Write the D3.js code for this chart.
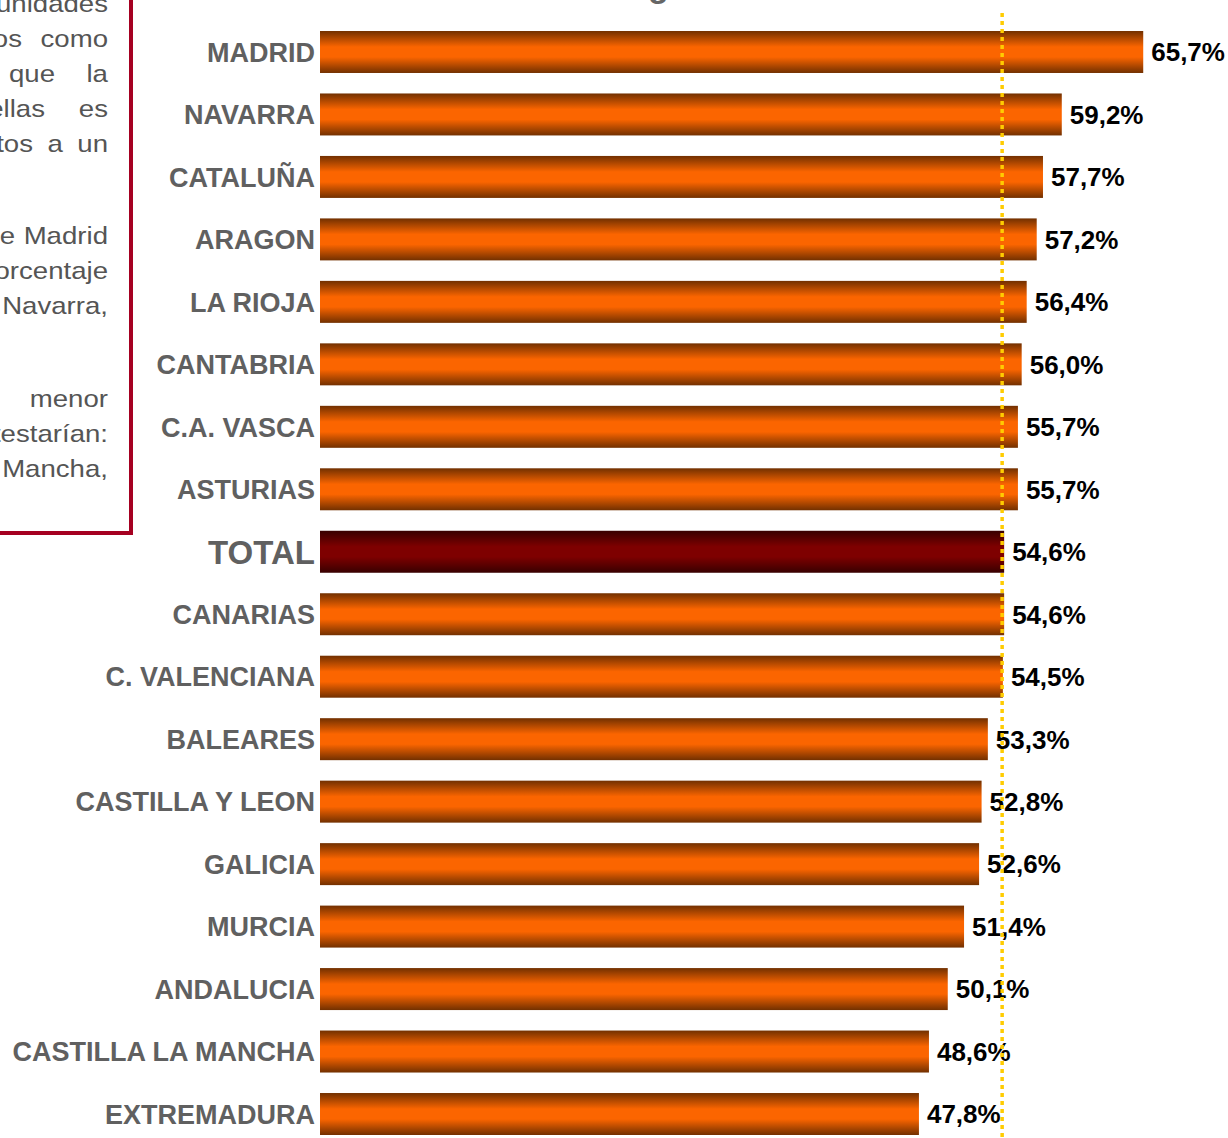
<!DOCTYPE html>
<html>
<head>
<meta charset="utf-8">
<script src="https://cdn.jsdelivr.net/npm/d3@7"></script>
<style>
  body { margin: 0; background: #fff; }
  svg { display: block; }
</style>
</head>
<body>
<div id="chart"></div>
<script>
var width = 1228;
var height = 1138;

// data -------------------------------------------------------------
var regions = ["MADRID", "NAVARRA", "CATALUÑA", "ARAGON", "LA RIOJA", "CANTABRIA",
	"C.A. VASCA", "ASTURIAS", "TOTAL", "CANARIAS", "C. VALENCIANA", "BALEARES",
	"CASTILLA Y LEON", "GALICIA", "MURCIA", "ANDALUCIA", "CASTILLA LA MANCHA", "EXTREMADURA"];
var values = [65.7, 59.2, 57.7, 57.2, 56.4, 56.0, 55.7, 55.7, 54.6, 54.6, 54.5, 53.3,
	52.8, 52.6, 51.4, 50.1, 48.6, 47.8];
var totalLabel = "TOTAL";
var totalValue = 54.6;

// side text box (only the right part is visible)
var noteLines = [
	{words: ["comunidades"], baseline: 12},
	{words: ["todos", "como"], baseline: 47, firstEnd: 22},
	{words: ["que", "la"], baseline: 82, firstEnd: 55},
	{words: ["ellas", "es"], baseline: 117, firstEnd: 45},
	{words: ["puntos", "a", "un"], baseline: 152, firstEnd: 33},
	{words: ["de", "Madrid"], baseline: 244, firstEnd: 15},
	{words: ["porcentaje"], baseline: 279},
	{words: ["Navarra,"], baseline: 314},
	{words: ["menor"], baseline: 407},
	{words: ["contestarían:"], baseline: 442},
	{words: ["Mancha,"], baseline: 477}
];

var rows = regions.map(function(r, i) { return {region: r, value: values[i]}; });

var svg = d3.select("#chart").append("svg")
	.attr("width", width)
	.attr("height", height);

var defs = svg.append("defs");

function addGradient(id, edge, mid) {
	var g = defs.append("linearGradient")
		.attr("id", id)
		.attr("x1", 0).attr("y1", 0)
		.attr("x2", 0).attr("y2", 1);
	g.append("stop").attr("offset", "0%").attr("stop-color", edge);
	g.append("stop").attr("offset", "38%").attr("stop-color", mid);
	g.append("stop").attr("offset", "62%").attr("stop-color", mid);
	g.append("stop").attr("offset", "100%").attr("stop-color", edge);
}
addGradient("barGrad", "#723000", "#fb6500");
addGradient("totalGrad", "#380000", "#7e0000");

// scales -----------------------------------------------------------
var y = d3.scaleBand()
	.domain(regions)
	.range([31, 1135])
	.paddingInner(0.328)
	.paddingOuter(0);

var x = d3.scaleLinear()
	.domain([0, 70])
	.range([320, 320 + 70 * 12.53]);

// title (cut off at top) -------------------------------------------
svg.append("text")
	.attr("x", 648)
	.attr("y", -3)
	.attr("font-family", "Liberation Sans, Arial, sans-serif")
	.attr("font-weight", "bold")
	.attr("font-size", 34)
	.attr("fill", "#666")
	.text("g");

// note box ---------------------------------------------------------
var stretch = 1.15;
var note = svg.append("g")
	.attr("transform", "scale(" + stretch + ",1)")
	.attr("font-family", "Liberation Sans, Arial, sans-serif")
	.attr("font-size", 24)
	.attr("fill", "#555");

noteLines.forEach(function(line) {
	var n = line.words.length;
	var nodes = line.words.map(function(w) {
		return note.append("text")
			.attr("y", line.baseline)
			.attr("text-anchor", "end")
			.text(w);
	});
	// last word ends at the right margin
	nodes[n - 1].attr("x", 108 / stretch);
	if (n > 1) {
		nodes[0].attr("x", line.firstEnd / stretch);
		if (n > 2) {
			// spread middle words evenly (justified)
			var lastW = nodes[n - 1].node().getComputedTextLength() * stretch;
			var lastStart = 108 - lastW;
			var midW = 0;
			for (var k = 1; k < n - 1; k++) midW += nodes[k].node().getComputedTextLength() * stretch;
			var gap = (lastStart - line.firstEnd - midW) / (n - 1);
			var pos = line.firstEnd;
			for (var k = 1; k < n - 1; k++) {
				pos += gap + nodes[k].node().getComputedTextLength() * stretch;
				nodes[k].attr("x", pos / stretch);
			}
		}
	}
});

svg.append("path")
	.attr("d", "M131,0 V533 H0")
	.attr("fill", "none")
	.attr("stroke", "#a50021")
	.attr("stroke-width", 4);

// bars -------------------------------------------------------------
svg.append("g").selectAll("rect")
	.data(rows)
	.enter()
	.append("rect")
		.attr("x", x(0))
		.attr("y", function(d) { return y(d.region); })
		.attr("width", function(d) { return x(d.value) - x(0); })
		.attr("height", y.bandwidth())
		.attr("fill", function(d) { return d.region == totalLabel ? "url(#totalGrad)" : "url(#barGrad)"; });

// category labels
svg.append("g").selectAll("text")
	.data(rows)
	.enter()
	.append("text")
		.attr("x", 315)
		.attr("y", function(d) { return y(d.region) + y.bandwidth() / 2; })
		.attr("dy", "0.36em")
		.attr("text-anchor", "end")
		.attr("font-family", "Liberation Sans, Arial, sans-serif")
		.attr("font-weight", "bold")
		.attr("font-size", function(d) { return d.region == totalLabel ? 33 : 27; })
		.attr("fill", "#606060")
		.text(function(d) { return d.region; });

// value labels
svg.append("g").selectAll("text")
	.data(rows)
	.enter()
	.append("text")
		.attr("x", function(d) { return x(d.value) + 8; })
		.attr("y", function(d) { return y(d.region) + y.bandwidth() / 2; })
		.attr("dy", "0.36em")
		.attr("font-family", "Liberation Sans, Arial, sans-serif")
		.attr("font-weight", "bold")
		.attr("font-size", 26)
		.attr("fill", "#000")
		.text(function(d) { return d.value.toFixed(1).replace(".", ",") + "%"; });

// reference line at the total -------------------------------------
svg.append("line")
	.attr("x1", x(totalValue) - 2)
	.attr("x2", x(totalValue) - 2)
	.attr("y1", 13)
	.attr("y2", height)
	.attr("stroke", "#ffcc00")
	.attr("stroke-width", 3.5)
	.attr("stroke-dasharray", "4,4");
</script>
</body>
</html>
